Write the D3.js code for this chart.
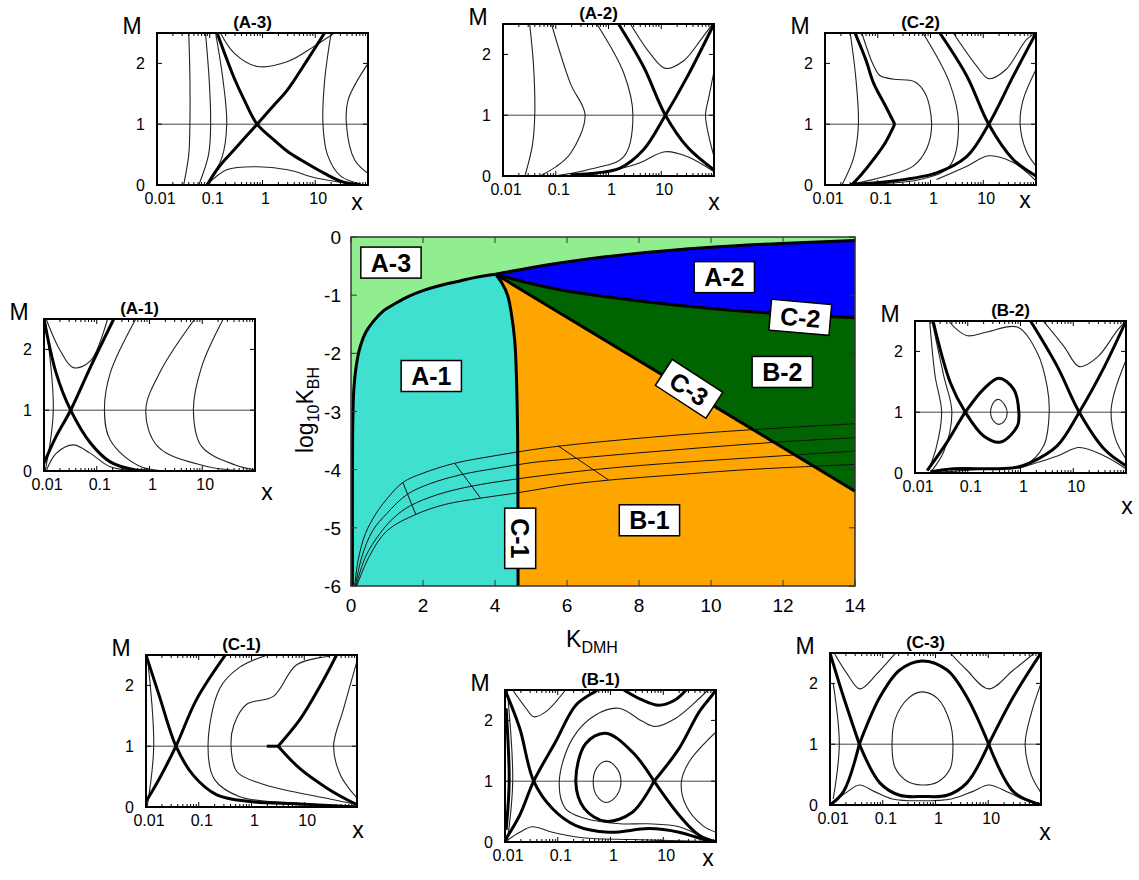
<!DOCTYPE html>
<html>
<head>
<meta charset="utf-8">
<script src="https://cdn.jsdelivr.net/npm/d3@7"></script>
<style>
body { margin: 0; background: #fff; }
svg { display: block; }
text { font-family: "Liberation Sans", Arial, sans-serif; fill: #000; }
</style>
</head>
<body>
<script>
// ---- main diagram: axes ----
var K_TICKS = [0, 2, 4, 6, 8, 10, 12, 14];
var LOGK_TICKS = [0, -1, -2, -3, -4, -5, -6];

// ---- main diagram: phase boundaries [K_DMH, log10 K_BH] ----
var bndA1A3 = [[0.04,-6],[0.04,-4],[0.05,-3.2],[0.08,-2.6],[0.15,-2.2],[0.25,-1.9],[0.4,-1.65],[0.62,-1.45],
               [0.9,-1.27],[1.24,-1.14],[1.6,-1.02],[1.96,-0.93],[2.5,-0.83],[3,-0.76],[3.5,-0.69],[4.02,-0.64]];
var bndA2A3 = [[4.02,-0.64],[5.75,-0.45],[7.8,-0.29],[9.9,-0.18],[11.95,-0.11],[14,-0.06]];
var bndC2   = [[4.02,-0.64],[5,-0.8],[6,-0.93],[7,-1.02],[8,-1.1],[9,-1.17],[10,-1.23],[11,-1.28],[12,-1.32],[13,-1.36],[14,-1.39]];
var bndC3   = [[4.02,-0.64],[14,-4.37]];
var bndC1   = [[4.02,-0.64],[4.2,-0.8],[4.35,-1.0],[4.45,-1.3],[4.55,-1.8],[4.6,-2.5],[4.63,-3.5],[4.64,-6]];

// thin model tracks and their cross lines
var tracks = [
  [[0.1,-6],[0.2,-5.55],[0.4,-5.1],[0.7,-4.75],[1.0,-4.5],[1.44,-4.22],[2.0,-4.06],[2.88,-3.89],[4.0,-3.76],[5.0,-3.66],[6,-3.58],[8,-3.46],[10,-3.36],[12,-3.28],[14,-3.21]],
  [[0.12,-6],[0.3,-5.5],[0.6,-5.05],[1.0,-4.75],[1.55,-4.43],[2.2,-4.24],[3.1,-4.08],[4.0,-3.98],[5,-3.88],[6,-3.82],[8,-3.71],[10,-3.61],[12,-3.52],[14,-3.45]],
  [[0.14,-6],[0.4,-5.5],[0.8,-5.1],[1.2,-4.82],[1.65,-4.62],[2.4,-4.43],[3.3,-4.29],[4.6,-4.16],[6.6,-4.01],[8,-3.93],[10,-3.84],[12,-3.76],[14,-3.68]],
  [[0.16,-6],[0.5,-5.5],[1.0,-5.05],[1.8,-4.77],[2.6,-4.6],[3.6,-4.49],[4.6,-4.4],[6,-4.26],[7.16,-4.18],[9,-4.09],[11,-4.0],[14,-3.91]]
];
var crossLines = [
  [[1.44,-4.22],[1.8,-4.77]],
  [[2.88,-3.89],[3.6,-4.49]],
  [[5.75,-3.59],[7.16,-4.18]]
];

var regionLabels = [
  {t:'A-3', k:1.11,  v:-0.44, rot:0},
  {t:'A-2', k:10.37, v:-0.69, rot:0},
  {t:'C-2', k:12.48, v:-1.38, rot:5},
  {t:'B-2', k:11.98, v:-2.32, rot:0},
  {t:'C-3', k:9.39,  v:-2.61, rot:33},
  {t:'A-1', k:2.23,  v:-2.39, rot:0},
  {t:'B-1', k:8.29,  v:-4.87, rot:0},
  {t:'C-1', k:4.7,   v:-5.18, rot:90}
];

// ---- insets: curves as [x, M] ----
var X_TICKS = [0.01, 0.1, 1, 10];
var X_TICK_LABELS = ['0.01', '0.1', '1', '10'];
var M_TICKS = [0, 1, 2];

var A3_thick = [
  [[0.138,2.5],[0.2,2.12],[0.29,1.76],[0.45,1.4],[0.79,1.0],[1.6,0.75],[3,0.55],[5.4,0.41],[15,0.19],[31,0.06],[74,0]],
  [[0.089,0],[0.15,0.3],[0.29,0.58],[0.79,1.0],[1.6,1.3],[3.0,1.57],[7,2.05],[15,2.5]]
];
var A3_thin = [
  [[0.040,2.5],[0.042,1.8],[0.042,1.0],[0.040,0.5],[0.032,0]],
  [[0.083,2.5],[0.098,1.7],[0.104,1.0],[0.095,0.5],[0.062,0]],
  [[0.129,2.5],[0.18,1.7],[0.21,1.0],[0.17,0.45],[0.089,0]],
  [[0.16,2.5],[0.29,2.17],[0.79,1.95],[3.0,2.03],[9.5,2.28],[23,2.5]],
  [[0.089,0],[0.21,0.25],[0.79,0.3],[3.0,0.25],[11,0.11],[56,0.01]],
  [[20,2.5],[15,1.7],[14,1.0],[17,0.5],[30,0.15],[70,0.02]],
  [[100,2.0],[42,1.4],[39,1.0],[56,0.41],[100,0.19]]
];

var A2_thick = [
  [[1.55,2.5],[4.6,1.8],[12,1.0],[31,0.48],[100,0.1]],
  [[0.19,0.02],[0.6,0.05],[1.66,0.13],[4.6,0.43],[12,1.0],[31,1.63],[100,2.5]]
];
var A2_thin = [
  [[0.032,2.5],[0.038,1.8],[0.040,1.0],[0.036,0.5],[0.026,0]],
  [[0.083,2.5],[0.19,1.52],[0.36,1.0],[0.19,0.37],[0.10,0.15],[0.05,0]],
  [[0.60,2.5],[1.95,1.69],[2.9,1.0],[1.95,0.32],[0.39,0.1],[0.09,0]],
  [[2.6,2.5],[6.1,2.02],[12,1.77],[27,1.9],[56,2.24],[92,2.49]],
  [[0.8,0.05],[3.5,0.2],[12,0.4],[31,0.32],[100,0.07]],
  [[100,1.72],[80,1.3],[69,1.0],[80,0.65],[100,0.32]]
];

var C2_thick = [
  [[0.037,2.5],[0.06,2.05],[0.083,1.68],[0.14,1.3],[0.21,1.0]],
  [[0.21,1.0],[0.14,0.7],[0.083,0.42],[0.05,0.18],[0.032,0]],
  [[1.5,2.5],[4.9,1.79],[12.7,1.0],[37,0.42],[100,0.15]],
  [[0.03,0.01],[0.11,0.04],[1.3,0.2],[4.9,0.47],[12.7,1.0],[37,1.79],[100,2.5]]
];
var C2_thin = [
  [[0.030,2.5],[0.038,1.8],[0.043,1.0],[0.035,0.45],[0.021,0]],
  [[0.05,2.5],[0.08,2.0],[0.11,1.8],[0.2,1.74],[0.5,1.7],[0.8,1.5],[1.05,1.0],[0.85,0.6],[0.47,0.31],[0.11,0.12],[0.026,0]],
  [[0.72,2.5],[2.3,1.68],[3.4,1.0],[2.3,0.31],[0.63,0.09],[0.05,0.01]],
  [[2.7,2.5],[7.6,1.95],[12.7,1.75],[27,1.9],[66,2.39],[100,2.5]],
  [[1.3,0.09],[4.9,0.31],[12.7,0.48],[37,0.37],[100,0.07]],
  [[100,1.9],[57,1.4],[50,1.0],[66,0.55],[100,0.31]]
];

var A1_thick = [
  [[0.01,2.5],[0.017,1.61],[0.032,1.0],[0.076,0.46],[0.18,0.15],[0.51,0.02],[1.0,0]],
  [[0.01,0.13],[0.017,0.57],[0.032,1.0],[0.076,1.71],[0.21,2.5]]
];
var A1_thin = [
  [[0.0105,2.5],[0.015,1.0],[0.0105,0]],
  [[0.011,2.5],[0.02,1.99],[0.036,1.7],[0.076,1.81],[0.16,2.5]],
  [[0.011,0],[0.017,0.29],[0.036,0.43],[0.076,0.29],[0.18,0.07],[0.7,0]],
  [[0.55,2.5],[0.18,1.61],[0.14,1.0],[0.18,0.51],[0.69,0.07],[9.6,0]],
  [[7.2,2.5],[1.66,1.66],[0.85,1.0],[1.44,0.40],[13,0.07],[100,0]],
  [[25,2.5],[9.8,1.72],[6.8,1.0],[9.8,0.40],[42,0.1],[100,0.02]]
];

var B2_thick = [
  [[0.022,2.5],[0.047,1.48],[0.09,1.0],[0.2,0.61],[0.42,0.51],[0.87,0.77],[0.93,1.0],[0.74,1.38],[0.39,1.56],[0.2,1.38],[0.09,1.0],[0.04,0.5],[0.017,0.04]],
  [[1.55,2.5],[5.0,1.75],[13,1.0],[39,0.39],[100,0.12]],
  [[0.02,0.02],[0.054,0.07],[0.3,0.07],[0.8,0.09],[1.55,0.17],[5.0,0.45],[13,1.0],[39,1.75],[100,2.5]]
];
var B2_thin = [
  [[0.019,2.5],[0.024,1.6],[0.032,1.0],[0.025,0.4],[0.018,0.05]],
  [[0.021,2.5],[0.035,1.6],[0.05,1.0],[0.035,0.35],[0.02,0.02]],
  [[0.043,2.5],[0.095,2.26],[0.23,2.32],[0.87,2.40],[2.1,1.97],[3.2,1.42],[3.5,1.0],[2.75,0.45],[1.15,0.12],[0.23,0.07],[0.026,0.01]],
  [[2.7,2.5],[6.7,2.08],[13,1.75],[29,1.91],[69,2.35],[100,2.5]],
  [[0.87,0.07],[5,0.28],[13,0.42],[39,0.28],[100,0.07]],
  [[100,1.86],[60,1.32],[52,1.0],[64,0.55],[100,0.23]]
];
var B2_loops = [
  [[0.27,1.0],[0.32,1.18],[0.39,1.21],[0.5,1.12],[0.56,1.0],[0.5,0.86],[0.39,0.80],[0.32,0.84]]
];

var C1_thick = [
  [[0.01,2.5],[0.018,1.82],[0.037,1.0],[0.079,0.52],[0.22,0.2],[0.93,0.09],[8.3,0.05],[100,0]],
  [[0.01,0.09],[0.018,0.47],[0.037,1.0],[0.091,1.77],[0.32,2.5]],
  [[3.2,1.0],[8.3,1.44],[20,1.99],[41,2.5]],
  [[3.2,1.0],[8.3,0.63],[27,0.31],[65,0.12],[100,0.04]],
  [[1.95,1.0],[3.2,1.0]]
];
var C1_thin = [
  [[0.0105,2.5],[0.014,1.0],[0.0105,0]],
  [[31,2.48],[7.2,2.34],[2.6,1.82],[0.81,1.69],[0.46,1.34],[0.41,1.0],[0.53,0.58],[1.45,0.39],[6.3,0.25],[36,0.12],[100,0.04]],
  [[2.0,2.5],[0.6,2.3],[0.25,1.95],[0.15,1.0],[0.2,0.45],[0.6,0.17],[8,0.06],[100,0.01]],
  [[100,2.4],[55,1.6],[36,1.0],[50,0.5],[100,0.15]]
];

var B1_thick = [
  [[0.01,2.5],[0.019,1.87],[0.035,1.0],[0.079,0.55],[0.22,0.27],[0.93,0.16],[5.4,0.22],[20,0.16],[65,0.03],[100,0]],
  [[0.01,0.03],[0.019,0.44],[0.035,1.0],[0.091,1.65],[0.22,2.25],[0.52,2.48],[0.6,2.52]],
  [[1.45,2.55],[3.5,2.36],[8.3,2.25],[17,2.34],[27,2.5]],
  [[6.7,1.0],[2.6,1.48],[0.81,1.79],[0.34,1.62],[0.22,0.99],[0.32,0.55],[0.81,0.34],[2.6,0.49],[6.7,1.0]],
  [[6.7,1.0],[20,1.54],[48,2.14],[95,2.48],[100,2.55]],
  [[6.7,1.0],[20,0.44],[48,0.11],[100,0]],
  [[0.0105,2.2],[0.012,1.0],[0.0105,0.2]]
];
var B1_thin = [
  [[0.014,2.5],[0.025,2.2],[0.035,2.06],[0.059,2.14],[0.14,2.5]],
  [[70,2.5],[48,2.36],[17,2.03],[7.2,1.90],[4.1,1.98],[1.45,2.20],[0.52,2.09],[0.19,1.70],[0.107,1.0],[0.14,0.55],[0.3,0.4],[1.5,0.3],[5,0.3],[20,0.25],[60,0.06]],
  [[100,1.81],[31,1.32],[22,0.98],[27,0.6],[56,0.27],[100,0.16]],
  [[0.01,0],[0.019,0.16],[0.033,0.25],[0.079,0.16],[0.3,0.07],[2.6,0.04],[48,0.01]],
  [[0.011,2.5],[0.014,1.0],[0.011,0.0]]
];
var B1_loops = [
  [[0.47,1.0],[0.55,1.22],[0.83,1.33],[1.3,1.22],[1.58,1.0],[1.3,0.76],[0.83,0.65],[0.55,0.76]]
];

var C3_thick = [
  [[0.036,1.0],[0.089,1.78],[0.21,2.22],[0.55,2.37],[1.66,2.22],[3.9,1.78],[10.2,1.0]],
  [[0.036,1.0],[0.089,0.36],[0.21,0.16],[0.59,0.14],[1.66,0.16],[3.9,0.36],[10.2,1.0]],
  [[0.036,1.0],[0.018,1.78],[0.01,2.5]],
  [[0.036,1.0],[0.018,0.22],[0.01,0]],
  [[10.2,1.0],[30,1.78],[100,2.5]],
  [[10.2,1.0],[30,0.22],[100,0]]
];
var C3_thin = [
  [[0.012,2.5],[0.021,2.16],[0.037,1.91],[0.078,2.16],[0.16,2.46],[0.2,2.55]],
  [[1.9,2.5],[3.9,2.22],[10.2,1.91],[30,2.22],[75,2.5]],
  [[0.01,0.02],[0.02,0.2],[0.036,0.33],[0.07,0.22],[0.15,0.1],[0.55,0.07],[2,0.1],[5,0.22],[10.2,0.33],[25,0.2],[50,0.08],[100,0.02]],
  [[0.0115,2.0],[0.015,1.0],[0.0115,0.1]],
  [[100,2.0],[65,1.5],[50,1.0],[65,0.5],[100,0.2]]
];
var C3_loops = [
  [[0.15,1.0],[0.17,1.4],[0.3,1.75],[0.55,1.86],[1.1,1.75],[1.9,1.35],[2.14,1.0],[1.9,0.6],[1.1,0.38],[0.55,0.33],[0.28,0.4],[0.17,0.62]]
];

var panels = [
  {id:'A-3', left:157, top:33,  thick:A3_thick, thin:A3_thin, loops:[],       xl:[-11,25]},
  {id:'A-2', left:503, top:24,  thick:A2_thick, thin:A2_thin, loops:[],       xl:[0,34]},
  {id:'C-2', left:825, top:33,  thick:C2_thick, thin:C2_thin, loops:[],       xl:[-11,23]},
  {id:'A-1', left:44,  top:319, thick:A1_thick, thin:A1_thin, loops:[],       xl:[12,29]},
  {id:'B-2', left:915, top:321, thick:B2_thick, thin:B2_thin, loops:B2_loops, xl:[1,41]},
  {id:'C-1', left:146, top:655, thick:C1_thick, thin:C1_thin, loops:[],       xl:[1,31]},
  {id:'B-1', left:505, top:690, thick:B1_thick, thin:B1_thin, loops:B1_loops, xl:[-8,24]},
  {id:'C-3', left:830, top:653, thick:C3_thick, thin:C3_thin, loops:C3_loops, xl:[4,35]}
];

var svg = d3.select('body').append('svg').attr('width', 1139).attr('height', 880);

// ================= main diagram =================
var main = {left: 351, top: 237, right: 855, bottom: 586};
var xK = d3.scaleLinear().domain([0, 14]).range([main.left, main.right]);
var yB = d3.scaleLinear().domain([-6, 0]).range([main.bottom, main.top]);
var mline = d3.line().x(function(d){ return xK(d[0]); }).y(function(d){ return yB(d[1]); }).curve(d3.curveCatmullRom);
var straight = d3.line().x(function(d){ return xK(d[0]); }).y(function(d){ return yB(d[1]); });

function joinPath(parts) {
  return parts.map(function(p, i){ return i ? p.replace(/^M/, 'L') : p; }).join('') + 'Z';
}
function rev(a) { return a.slice().reverse(); }

var mg = svg.append('g');
mg.append('rect').attr('x', main.left).attr('y', main.top)
  .attr('width', main.right - main.left).attr('height', main.bottom - main.top)
  .attr('fill', '#90ee90');

var last = function(a){ return a[a.length - 1]; };
var c3end = last(bndC3), c2end = last(bndC2), a2end = last(bndA2A3), c1end = last(bndC1);

// A-1
mg.append('path').attr('fill', '#40e0d0')
  .attr('d', joinPath([mline(bndA1A3), mline(bndC1)]));
// B-1
mg.append('path').attr('fill', '#ffa500')
  .attr('d', joinPath([mline(bndC1), straight([c1end, [14, -6], c3end]), straight(rev(bndC3))]));
// B-2
mg.append('path').attr('fill', '#006400')
  .attr('d', joinPath([straight(bndC3), straight([c3end, c2end]), mline(rev(bndC2))]));
// A-2
mg.append('path').attr('fill', '#0000ff')
  .attr('d', joinPath([mline(bndC2), straight([c2end, a2end]), mline(rev(bndA2A3))]));

// thin tracks
tracks.concat(crossLines).forEach(function(t){
  mg.append('path').attr('d', mline(t)).attr('fill', 'none').attr('stroke', '#111').attr('stroke-width', 1);
});

// boundary lines
[bndA1A3, bndA2A3, bndC2, bndC1].forEach(function(b){
  mg.append('path').attr('d', mline(b)).attr('fill', 'none').attr('stroke', '#000').attr('stroke-width', 3);
});
mg.append('path').attr('d', straight(bndC3)).attr('fill', 'none').attr('stroke', '#000').attr('stroke-width', 3);

// frame and ticks
mg.append('rect').attr('x', main.left).attr('y', main.top)
  .attr('width', main.right - main.left).attr('height', main.bottom - main.top)
  .attr('fill', 'none').attr('stroke', '#333').attr('stroke-width', 1.5);

K_TICKS.forEach(function(k){
  mg.append('line').attr('x1', xK(k)).attr('x2', xK(k)).attr('y1', main.bottom).attr('y2', main.bottom - 6).attr('stroke', '#333');
  mg.append('line').attr('x1', xK(k)).attr('x2', xK(k)).attr('y1', main.top).attr('y2', main.top + 6).attr('stroke', '#333');
  mg.append('text').attr('x', xK(k)).attr('y', main.bottom + 26).attr('text-anchor', 'middle')
    .style('font-size', '19px').text(k);
});
LOGK_TICKS.forEach(function(v){
  mg.append('line').attr('x1', main.left).attr('x2', main.left + 6).attr('y1', yB(v)).attr('y2', yB(v)).attr('stroke', '#333');
  mg.append('line').attr('x1', main.right).attr('x2', main.right - 6).attr('y1', yB(v)).attr('y2', yB(v)).attr('stroke', '#333');
  mg.append('text').attr('x', main.left - 10).attr('y', yB(v) + 7).attr('text-anchor', 'end')
    .style('font-size', '19px').text(v);
});

// axis titles
var xt = mg.append('text').attr('x', 592).attr('y', 647).attr('text-anchor', 'middle').style('font-size', '23px');
xt.append('tspan').text('K');
xt.append('tspan').attr('dy', 6).style('font-size', '16px').text('DMH');

var yt = mg.append('text').attr('transform', 'translate(313,410) rotate(-90)').attr('text-anchor', 'middle').style('font-size', '23px');
yt.append('tspan').text('log');
yt.append('tspan').attr('dy', 6).style('font-size', '16px').text('10');
yt.append('tspan').attr('dy', -6).text('K');
yt.append('tspan').attr('dy', 6).style('font-size', '16px').text('BH');

// region labels
regionLabels.forEach(function(l){
  var g = mg.append('g').attr('transform', 'translate(' + xK(l.k) + ',' + yB(l.v) + ') rotate(' + l.rot + ')');
  var r = g.append('rect').attr('fill', '#fff').attr('stroke', '#000').attr('stroke-width', 1.5);
  var t = g.append('text').attr('text-anchor', 'middle').attr('dy', '0.36em')
    .style('font-size', '25px').style('font-weight', 'bold').text(l.t);
  var w = t.node().getComputedTextLength() + 20, h = 31;
  r.attr('x', -w / 2).attr('y', -h / 2).attr('width', w).attr('height', h);
});

// ================= insets =================
var IW = 211, IH = 152;
panels.forEach(function(p, pi){
  var g = svg.append('g').attr('transform', 'translate(' + p.left + ',' + p.top + ')');
  var x = d3.scaleLog().domain([0.01, 100]).range([0, IW]);
  var y = d3.scaleLinear().domain([0, 2.5]).range([IH, 0]);
  var line = d3.line().x(function(d){ return x(d[0]); }).y(function(d){ return y(d[1]); }).curve(d3.curveCatmullRom);
  var loop = d3.line().x(function(d){ return x(d[0]); }).y(function(d){ return y(d[1]); }).curve(d3.curveCatmullRomClosed);

  g.append('clipPath').attr('id', 'clip' + pi).append('rect').attr('width', IW).attr('height', IH);
  var body = g.append('g').attr('clip-path', 'url(#clip' + pi + ')');

  body.append('line').attr('x1', 0).attr('x2', IW).attr('y1', y(1)).attr('y2', y(1))
    .attr('stroke', '#444').attr('stroke-width', 1);

  p.thin.forEach(function(c){
    body.append('path').attr('d', line(c)).attr('fill', 'none').attr('stroke', '#222').attr('stroke-width', 1.1);
  });
  p.loops.forEach(function(c){
    body.append('path').attr('d', loop(c)).attr('fill', 'none').attr('stroke', '#222').attr('stroke-width', 1.1);
  });
  p.thick.forEach(function(c){
    body.append('path').attr('d', line(c)).attr('fill', 'none').attr('stroke', '#000').attr('stroke-width', 3);
  });

  // ticks (inward, mirrored)
  x.ticks().forEach(function(v){
    var major = X_TICKS.indexOf(v) >= 0 || v === 100;
    var len = major ? 5 : 3;
    g.append('line').attr('x1', x(v)).attr('x2', x(v)).attr('y1', IH).attr('y2', IH - len).attr('stroke', '#000');
    g.append('line').attr('x1', x(v)).attr('x2', x(v)).attr('y1', 0).attr('y2', len).attr('stroke', '#000');
  });
  M_TICKS.forEach(function(m){
    g.append('line').attr('x1', 0).attr('x2', 5).attr('y1', y(m)).attr('y2', y(m)).attr('stroke', '#000');
    g.append('line').attr('x1', IW).attr('x2', IW - 5).attr('y1', y(m)).attr('y2', y(m)).attr('stroke', '#000');
    g.append('text').attr('x', -12).attr('y', y(m) + 6).attr('text-anchor', 'end').style('font-size', '16px').text(m);
  });
  X_TICKS.forEach(function(v, i){
    g.append('text').attr('x', x(v) + 3).attr('y', IH + 19).attr('text-anchor', 'middle').style('font-size', '16px').text(X_TICK_LABELS[i]);
  });

  g.append('rect').attr('width', IW).attr('height', IH).attr('fill', 'none').attr('stroke', '#000').attr('stroke-width', 2);

  g.append('text').attr('x', IW / 2 - 10).attr('y', -5).attr('text-anchor', 'middle')
    .style('font-size', '17px').style('font-weight', 'bold').text('(' + p.id + ')');
  g.append('text').attr('x', -25).attr('y', 1).attr('text-anchor', 'middle').style('font-size', '23px').text('M');
  g.append('text').attr('x', IW + p.xl[0]).attr('y', IH + p.xl[1]).attr('text-anchor', 'middle').style('font-size', '23px').text('x');
});
</script>
</body>
</html>
